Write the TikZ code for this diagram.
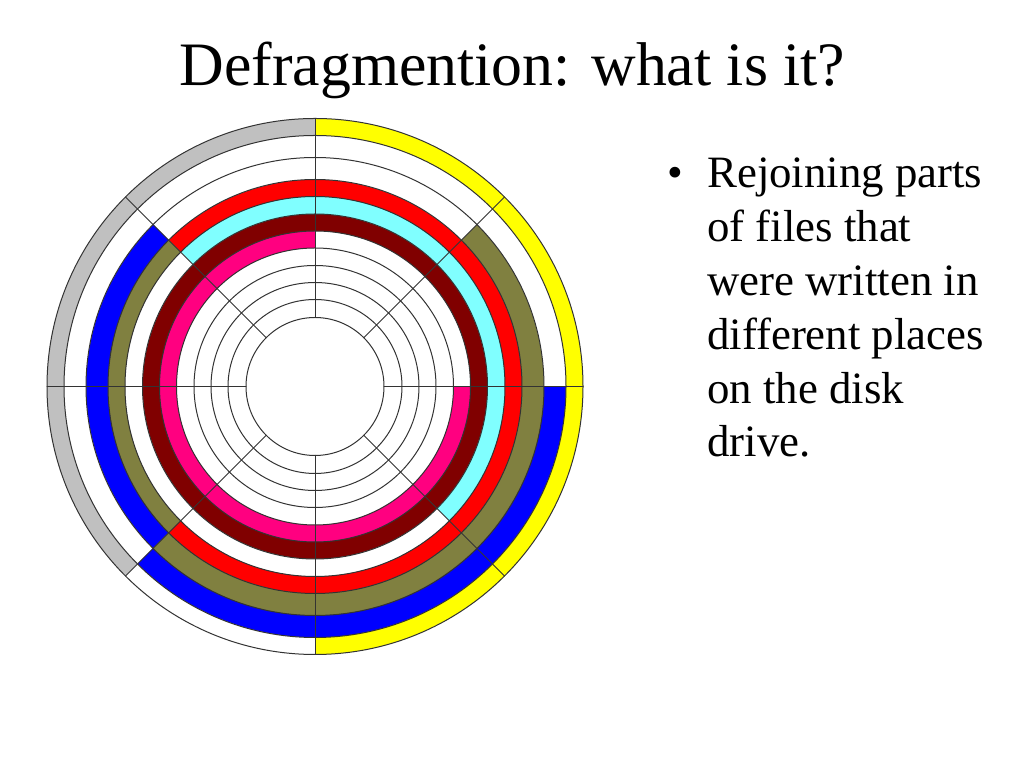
\documentclass[tikz,border=0pt]{standalone}
\usepackage{fontspec}
\setmainfont{Liberation Serif}
\definecolor{disksilver}{RGB}{192,192,192}
\definecolor{diskyellow}{RGB}{255,255,0}
\definecolor{diskblue}{RGB}{0,0,255}
\definecolor{diskolive}{RGB}{128,128,64}
\definecolor{diskred}{RGB}{255,0,0}
\definecolor{diskcyan}{RGB}{128,255,255}
\definecolor{diskmaroon}{RGB}{128,0,0}
\definecolor{diskpink}{RGB}{255,0,128}
\begin{document}
\begin{tikzpicture}[x=1bp,y=1bp,line join=round,line cap=round,
	trackline/.style={draw=black!80,line width=1bp}]
	\useasboundingbox (0,0) rectangle (1024,768);
	\def\hole{69} \def\rim{268}
	\node (title) at (512.5,682) [anchor=base,inner sep=0,font=\fontsize{62}{70}\selectfont] {Defragmention: what is it?};
	\begin{scope}[shift={(315,381.5)}]
		\foreach \ri/\ro/\ca/\cb/\cc/\cd/\ce/\cf/\cg/\ch in {
			138.5/155.5/white/white/diskpink/diskpink/diskpink/diskpink/diskpink/diskpink,
			155.5/172.5/diskmaroon/diskmaroon/diskmaroon/diskmaroon/diskmaroon/diskmaroon/diskmaroon/diskmaroon,
			172.5/190/diskcyan/diskcyan/diskcyan/white/white/white/white/diskcyan,
			190/207/diskred/diskred/diskred/diskolive/diskolive/diskred/diskred/diskred,
			207/229/diskolive/white/white/diskblue/diskblue/diskolive/diskolive/diskolive,
			229/251/white/white/white/white/white/diskblue/diskblue/diskblue,
			251/268/diskyellow/diskyellow/disksilver/disksilver/disksilver/white/diskyellow/diskyellow}
			\foreach \a/\c in {0/\ca,45/\cb,90/\cc,135/\cd,180/\ce,225/\cf,270/\cg,315/\ch}
				\fill[fill=\c] (\a:\ri) arc[start angle=\a,end angle=\a+45,radius=\ri]
					-- (\a+45:\ro) arc[start angle=\a+45,end angle=\a,radius=\ro] -- cycle;
		\foreach \r in {69,87,104,121,138.5,155.5,172.5,190,207,229,251,268}
			\draw[trackline] (0,0) circle[radius=\r];
		\foreach \a in {0,45,...,315}
			\draw[trackline] (\a:\hole) -- (\a:\rim);
	\end{scope}
	\node (dot) at (675,580) [anchor=base,inner sep=0,font=\fontsize{45}{54}\selectfont] {\textbullet};
	\node (points) at (707,580) [anchor=base west,inner sep=0,font=\fontsize{45}{54}\selectfont]
		{\parbox[t]{310bp}{\raggedright Rejoining parts\\of files that\\were written in\\different places\\on the disk\\drive.}};
\end{tikzpicture}
\end{document}
